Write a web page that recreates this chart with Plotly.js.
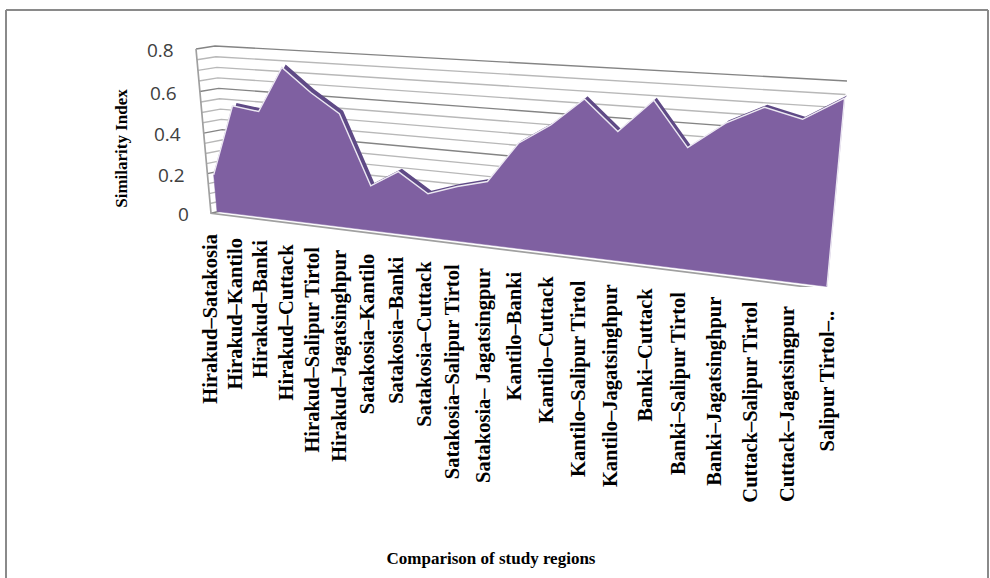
<!DOCTYPE html>
<html><head><meta charset="utf-8">
<script src="https://cdn.plot.ly/plotly-3.0.1.min.js"></script>
<style>html,body{margin:0;padding:0;background:#fff}</style></head>
<body><div id="chart" style="width:990px;height:578px"></div>
<script>
const categories = ["Hirakud–Satakosia","Hirakud–Kantilo","Hirakud–Banki","Hirakud–Cuttack","Hirakud–Salipur Tirtol","Hirakud–Jagatsinghpur","Satakosia–Kantilo","Satakosia–Banki","Satakosia–Cuttack","Satakosia–Salipur Tirtol","Satakosia– Jagatsingpur","Kantilo–Banki","Kantilo–Cuttack","Kantilo–Salipur Tirtol","Kantilo–Jagatsinghpur","Banki–Cuttack","Banki–Salipur Tirtol","Banki–Jagatsinghpur","Cuttack–Salipur Tirtol","Cuttack–Jagatsingpur","Salipur Tirtol–.."];
const similarity = [0.185,0.532,0.515,0.728,0.622,0.535,0.213,0.293,0.205,0.252,0.288,0.469,0.558,0.676,0.552,0.689,0.509,0.618,0.690,0.654,0.744];
const majorTicks = [0,0.2,0.4,0.6,0.8];
const minorStep = [0.05,0.1,0.15,0.25,0.3,0.35,0.45,0.5,0.55,0.65,0.7,0.75];
const vMax = 0.8;
const W=990,H=578,L=135,R=847,T=10,B=287;

// perspective view of the 3-D chart box
function view(p00,p10,p11,p01){
  const dx1=p10[0]-p11[0],dx2=p01[0]-p11[0],sx=p00[0]-p10[0]+p11[0]-p01[0];
  const dy1=p10[1]-p11[1],dy2=p01[1]-p11[1],sy=p00[1]-p10[1]+p11[1]-p01[1];
  const det=dx1*dy2-dx2*dy1,g=(sx*dy2-dx2*sy)/det,h=(dx1*sy-sx*dy1)/det;
  const a=p10[0]-p00[0]+g*p10[0],b=p01[0]-p00[0]+h*p01[0],c=p00[0];
  const d=p10[1]-p00[1]+g*p10[1],e=p01[1]-p00[1]+h*p01[1],f=p00[1];
  return (i,v)=>{const u=i/(categories.length-1),t=v/vMax,w=g*u+h*t+1;return [(a*u+b*t+c)/w,(d*u+e*t+f)/w];};
}
const face = view([217,211.5],[827,286.5],[846,83],[202,47]);
const faceBack = view([221,208.5],[829.5,284],[848.5,80.5],[206,44]);
const frontBox = view([211,213.3],[827,289.5],[846,85],[196,49]);
const backWall = view([229,209],[824,284],[847,81],[215,46]);

const traces=[];
function line(pts,color,width){traces.push({type:'scatter',mode:'lines',x:pts.map(p=>p[0]),y:pts.map(p=>p[1]),line:{color:color,width:width},hoverinfo:'skip',showlegend:false,cliponaxis:false});}
const last=categories.length-1;
minorStep.forEach(v=>{line([frontBox(0,v),backWall(0,v),backWall(last,v)],'#b8b8b8',1.4);});
majorTicks.forEach(v=>{line([frontBox(0,v),backWall(0,v),backWall(last,v)],'#848484',1.4);});
line([frontBox(0,vMax),frontBox(0,0),frontBox(last,0)],'#a0a0a0',1.7);

// dark top of the extruded area
const tx=[],ty=[];
for(let i=0;i<last;i++){
  const q=[face(i,similarity[i]),face(i+1,similarity[i+1]),faceBack(i+1,similarity[i+1]),faceBack(i,similarity[i]),face(i,similarity[i])];
  q.forEach(p=>{tx.push(p[0]);ty.push(p[1]);});tx.push(null);ty.push(null);
}
traces.push({type:'scatter',mode:'lines',x:tx,y:ty,fill:'toself',fillcolor:'#5f4a86',line:{width:0},hoverinfo:'skip',showlegend:false,cliponaxis:false});

// front face of the area
const ridge=similarity.map((v,i)=>face(i,v));
const poly=[face(0,0),...ridge,face(last,0),face(0,0)];
traces.push({type:'scatter',mode:'lines',x:poly.map(p=>p[0]),y:poly.map(p=>p[1]),fill:'toself',fillcolor:'#7f60a1',line:{color:'#7f60a1',width:0.5},hoverinfo:'skip',showlegend:false,cliponaxis:false});
line([...ridge,face(last,0)],'#ece8f2',1.4);

const paperY=y=>(B-y)/(B-T);
const ann=[];
majorTicks.forEach(v=>{const p=frontBox(0,v);ann.push({x:p[0]-20.5,yref:'paper',y:paperY(p[1]+1),text:String(v),showarrow:false,xanchor:'right',yanchor:'middle',font:{family:'"Open Sans",sans-serif',size:19,color:'#404040'}});});
categories.forEach((c,i)=>{const p=frontBox(i,0);ann.push({x:p[0]-0.5,yref:'paper',y:paperY(p[1]+19),text:'<b>'+c+'</b>',showarrow:false,textangle:-90,xanchor:'center',yanchor:'top',font:{family:'"Liberation Serif",serif',size:20.5,color:'#000'}});});

const border=[[6,10,6,578],[6,10,988,10],[988,10,988,578]].map(s=>({type:'line',xref:'paper',yref:'paper',x0:(s[0]-L)/(R-L),x1:(s[2]-L)/(R-L),y0:(B-s[1])/(B-T),y1:(B-s[3])/(B-T),line:{color:'#8a8a8a',width:2}}));

Plotly.newPlot('chart',traces,{
  width:W,height:H,showlegend:false,paper_bgcolor:'#fff',plot_bgcolor:'rgba(0,0,0,0)',
  margin:{l:L,r:W-R,t:T,b:H-B,pad:0},
  xaxis:{range:[L,R],showgrid:false,zeroline:false,showline:false,showticklabels:false,ticks:'',automargin:false,
    title:{text:'<b>Comparison of study regions</b>',standoff:265,font:{family:'"Liberation Serif",serif',size:17,color:'#000'}}},
  yaxis:{range:[B,T],showgrid:false,zeroline:false,showline:false,showticklabels:false,ticks:'',automargin:false,
    title:{text:'<b>Similarity Index</b>',standoff:2,font:{family:'"Liberation Serif",serif',size:17,color:'#000'}}},
  annotations:ann,shapes:border
},{displayModeBar:false,staticPlot:true});
</script></body></html>
